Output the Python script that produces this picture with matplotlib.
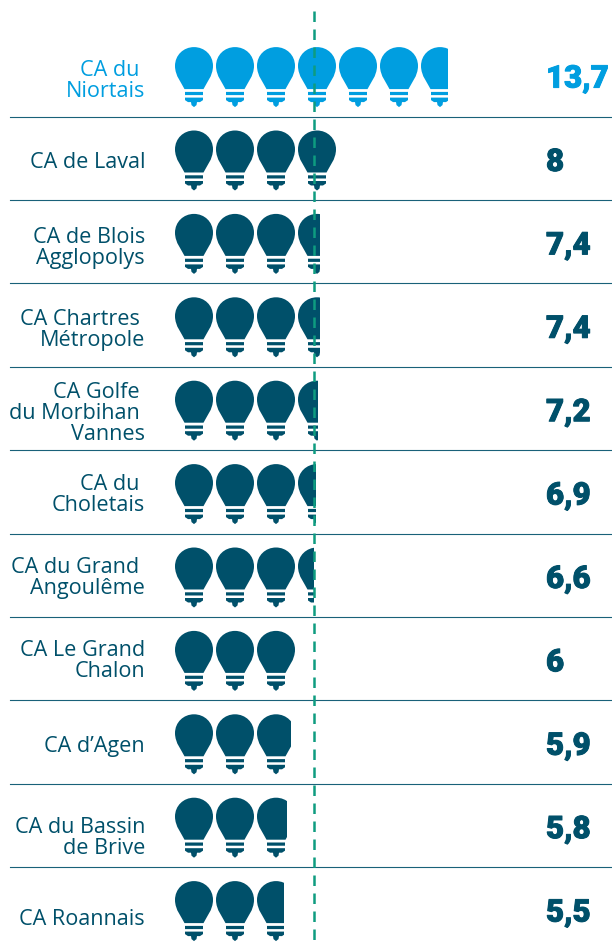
import matplotlib
matplotlib.use('Agg')
import matplotlib.pyplot as plt
import matplotlib.patheffects as pe
from matplotlib.path import Path
from matplotlib.patches import PathPatch, Rectangle
from matplotlib.transforms import Affine2D

# Data
labels = ["CA du \nNiortais", "CA de Laval", "CA de Blois\nAgglopolys", "CA Chartres \nMétropole",
          "CA Golfe \ndu Morbihan \nVannes", "CA du \nCholetais", "CA du Grand \nAngoulême",
          "CA Le Grand\nChalon", "CA d’Agen", "CA du Bassin\nde Brive", "CA Roannais"]
values = [13.7, 8, 7.4, 7.4, 7.2, 6.9, 6.6, 6, 5.9, 5.8, 5.5]
# how many bulbs are drawn in each row
bulbs = [6.7, 4.0, 3.58, 3.58, 3.53, 3.47, 3.42, 3.0, 2.89, 2.79, 2.71]

# labels are not all centred in their row
label_nudge = {0: 2, 1: 1, 2: 2.5, 3: 1, 4: 1, 5: -1, 6: -1, 7: -1, 8: 1, 9: 9, 10: 7}

dark = '#00506A'
blue = '#009EE0'
green = '#0E9C80'

fig = plt.figure(figsize=(6.12, 9.45), dpi=100)
ax = fig.add_axes([0, 0, 1, 1])
ax.set_xlim(0, 612)
ax.set_ylim(945, 0)
ax.axis('off')

M, L, C, Z = Path.MOVETO, Path.LINETO, Path.CURVE4, Path.CLOSEPOLY

# One bulb, 38 wide and 60 high
def bulb_path():
    verts = [(9.5, 42), (7, 36.5), (0, 29), (0, 18.8),
             (0, 8), (8.5, 0), (19, 0),
             (29.5, 0), (38, 8), (38, 18.8),
             (38, 29), (31, 36.5), (28.5, 42), (9.5, 42),
             (10, 44.8), (28, 44.8), (28, 48), (10, 48), (10, 44.8),
             (10, 50.5), (28, 50.5), (28, 53), (25, 55), (22, 55), (21.5, 58), (19, 60),
             (16.5, 58), (16, 55), (13, 55), (10, 53), (10, 50.5)]
    codes = [M, C, C, C, C, C, C, C, C, C, C, C, C, Z,
             M, L, L, L, Z,
             M, L, L, L, L, L, L, L, L, L, L, Z]
    return Path(verts, codes)

shape = bulb_path()
x0, pitch, width = 175, 41, 38
first_line, row_h = 117.5, 83.4

for i, (lab, val, n) in enumerate(zip(labels, values, bulbs)):
    col = blue if i == 0 else dark
    top = first_line + (i - 1) * row_h
    mid = top + 44.5

    ax.text(145, mid + label_nudge[i], lab, ha='right', va='center', ma='right', color=col,
            fontsize=15.6, family='Open Sans', linespacing=1.0)

    whole = int(n)
    end = x0 + whole * pitch + (n - whole) * width
    if n == whole:
        end = x0 + whole * pitch
    clip = Rectangle((x0 - 1, top), end - x0 + 1, 80, transform=ax.transData)
    for b in range(whole + (1 if n > whole else 0)):
        tr = Affine2D().translate(x0 + b * pitch, top + 14) + ax.transData
        p = PathPatch(shape, facecolor=col, edgecolor='none', transform=tr)
        ax.add_patch(p)
        p.set_clip_path(clip)

    txt = str(val).replace('.', ',')
    ax.text(546, mid + 1, txt, ha='left', va='center', color=col, fontsize=22.5,
            family='Roboto', fontweight='black',
            path_effects=[pe.withStroke(linewidth=0.7, foreground=col)])

    if i < len(labels) - 1:
        ax.plot([10, 612], [first_line + i * row_h] * 2, color=dark, lw=0.8, alpha=0.9, zorder=1)

ax.plot([314, 314], [12, 942], color=green, lw=1.8, dashes=(4.2, 3.0),
        dash_capstyle='butt', zorder=5)

fig.savefig('out.png', dpi=100)
